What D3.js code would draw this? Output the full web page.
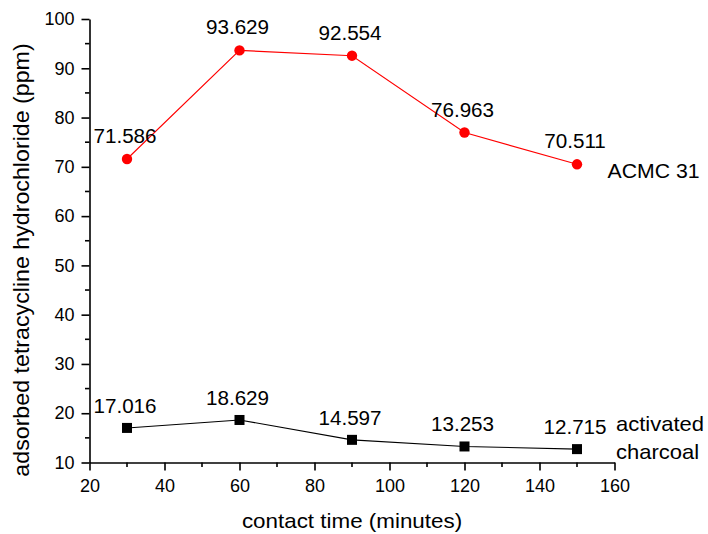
<!DOCTYPE html>
<html>
<head>
<meta charset="utf-8">
<script src="https://cdn.jsdelivr.net/npm/d3@7"></script>
<style>
  body { margin: 0; background: #fff; }
  svg { display: block; }
  text { font-family: "Liberation Sans", Arial, sans-serif; fill: #000; }
</style>
</head>
<body>
<svg id="chart" width="708" height="534"></svg>
<script>
// contact time (minutes)
const times = [30, 60, 90, 120, 150];
// adsorbed amount (ppm) for each adsorbent
const acmcValues = [71.586, 93.629, 92.554, 76.963, 70.511];
const charcoalValues = [17.016, 18.629, 14.597, 13.253, 12.715];
const xTicks = [20, 40, 60, 80, 100, 120, 140, 160];
const yTicks = [10, 20, 30, 40, 50, 60, 70, 80, 90, 100];

const svg = d3.select("#chart");
const margin = { left: 89.5, right: 93.5, top: 19, bottom: 71.5 };
const W = 708, H = 534;

const x = d3.scaleLinear().domain([20, 160]).range([margin.left, W - margin.right]);
const y = d3.scaleLinear().domain([10, 100]).range([H - margin.bottom, margin.top]);

// minor ticks sit halfway between the labelled ones
const xMinor = d3.range(30, 160, 20);
const yMinor = d3.range(15, 100, 10);

// text helper: slightly widened glyphs
function label(parent, px, py, str, size, sx, anchor, rot) {
  return parent.append("text")
    .attr("transform", `translate(${px},${py})` + (rot ? ` rotate(${rot})` : "") + ` scale(${sx},1)`)
    .attr("text-anchor", anchor || "start")
    .attr("font-size", size)
    .text(str);
}

const axisG = svg.append("g");

// x axis
const xAxis = axisG.append("g").attr("transform", `translate(0,${y(10)})`);
xAxis.call(d3.axisBottom(x).tickValues(xTicks).tickSize(8).tickSizeOuter(0).tickPadding(9));
xAxis.append("g").selectAll("line").data(xMinor).join("line")
  .attr("x1", d => x(d)).attr("x2", d => x(d)).attr("y1", 0).attr("y2", 4.5)
  .attr("stroke", "#000").attr("stroke-width", 1.6);

// y axis
const yAxis = axisG.append("g").attr("transform", `translate(${x(20)},0)`);
yAxis.call(d3.axisLeft(y).tickValues(yTicks).tickSize(8).tickSizeOuter(0).tickPadding(7));
yAxis.append("g").selectAll("line").data(yMinor).join("line")
  .attr("y1", d => y(d)).attr("y2", d => y(d)).attr("x1", 0).attr("x2", -4.5)
  .attr("stroke", "#000").attr("stroke-width", 1.6);

axisG.selectAll(".domain").attr("stroke", "#000").attr("stroke-width", 1.6);
axisG.selectAll(".tick line").attr("stroke", "#000").attr("stroke-width", 1.6);
axisG.selectAll(".tick text").attr("font-size", 18)
  .attr("font-family", "Liberation Sans, Arial, sans-serif").attr("fill", "#000");

// axis titles
label(svg, x(90), 528, "contact time (minutes)", 20, 1.12, "middle");
label(svg, 28.5, 260, "adsorbed tetracycline hydrochloride (ppm)", 21.5, 1.08, "middle", -90);

const line = d3.line().x(d => x(d[0])).y(d => y(d[1]));

function drawSeries(vals, color, shape, labelOffset) {
  const pts = times.map((t, i) => [t, vals[i]]);
  const g = svg.append("g");
  g.append("path").datum(pts).attr("d", line)
    .attr("fill", "none").attr("stroke", color).attr("stroke-width", 1.1);
  if (shape === "circle") {
    g.selectAll("circle").data(pts).join("circle")
      .attr("cx", d => x(d[0])).attr("cy", d => y(d[1])).attr("r", 5.2)
      .attr("fill", color);
  } else {
    const s = 10;
    g.selectAll("rect").data(pts).join("rect")
      .attr("x", d => x(d[0]) - s / 2).attr("y", d => y(d[1]) - s / 2)
      .attr("width", s).attr("height", s).attr("fill", color);
  }
  pts.forEach(d => {
    label(g, x(d[0]) - 2, y(d[1]) - labelOffset, d[1].toFixed(3), 19.5, 1.06, "middle");
  });
}

drawSeries(acmcValues, "#ff0000", "circle", 16);
drawSeries(charcoalValues, "#000000", "square", 15);

// series names at the right end of each line
label(svg, 607.5, 177.5, "ACMC 31", 19.5, 1.09);
label(svg, 616, 431, "activated", 20, 1.1);
label(svg, 616, 459, "charcoal", 20, 1.1);
</script>
</body>
</html>
